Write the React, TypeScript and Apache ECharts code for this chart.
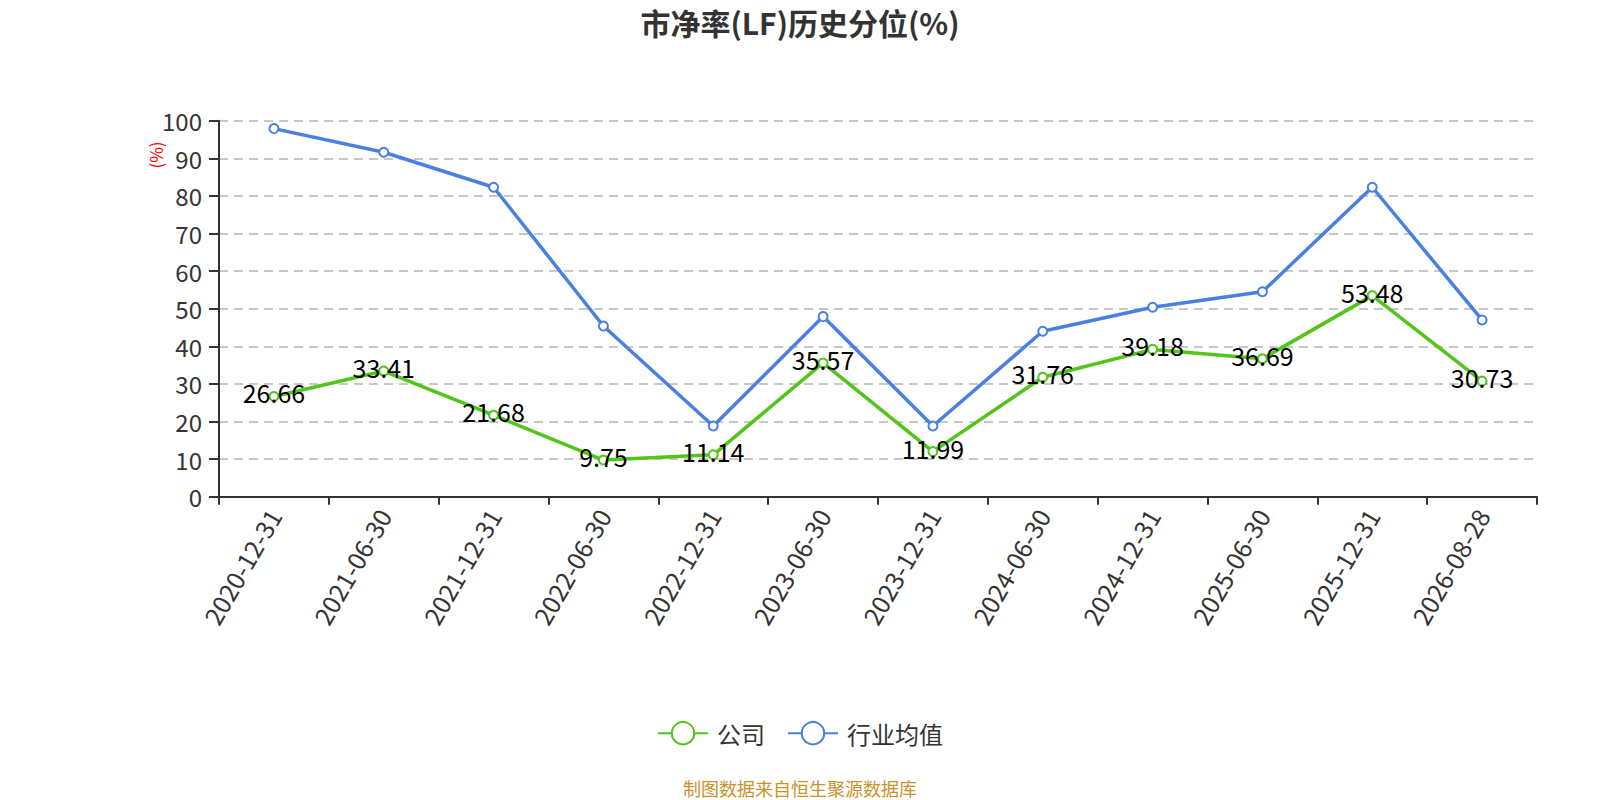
import React, { useEffect, useRef } from "react";
import * as echarts from "echarts";

const categories = [
  "2020-12-31", "2021-06-30", "2021-12-31", "2022-06-30", "2022-12-31", "2023-06-30",
  "2023-12-31", "2024-06-30", "2024-12-31", "2025-06-30", "2025-12-31", "2026-08-28",
];
const companyValues = [26.66, 33.41, 21.68, 9.75, 11.14, 35.57, 11.99, 31.76, 39.18, 36.69, 53.48, 30.73];
const industryValues = [97.9, 91.6, 82.3, 45.4, 18.8, 47.9, 18.8, 44.0, 50.4, 54.5, 82.3, 47.0];
const seriesNames = ["公司", "行业均值"];
const titleText = "市净率(LF)历史分位(%)";
const footerText = "制图数据来自恒生聚源数据库";
const yAxisName = "(%)";

const FONT = "'Noto Sans CJK SC', 'Noto Sans', sans-serif";
const GREEN = "#52c41a";
const BLUE = "#4a80e0";

export default function App() {
  const ref = useRef<HTMLDivElement>(null);
  useEffect(() => {
    if (!ref.current) return;
    const chart = echarts.init(ref.current, null, { renderer: "svg" });
    chart.setOption({
      animation: false,
      textStyle: { fontFamily: FONT },
      title: {
        text: titleText,
        left: "center",
        top: 7,
        padding: 0,
        textStyle: { fontSize: 30, fontWeight: "bold", color: "#333", fontFamily: FONT },
      },
      legend: {
        top: 716,
        left: "center",
        itemWidth: 50,
        itemHeight: 28,
        itemGap: 22,
        textStyle: { fontSize: 24, color: "#333", fontFamily: FONT, padding: [0, 0, 0, 4] },
        data: seriesNames,
      },
      graphic: [
        {
          type: "text",
          x: 800,
          y: 788,
          style: {
            text: footerText, fill: "#c8922a", fontSize: 18, fontFamily: FONT,
            align: "center", verticalAlign: "middle",
          },
        },
        {
          type: "text",
          x: 155,
          y: 155,
          rotation: Math.PI / 2,
          style: {
            text: yAxisName, fill: "#ff0000", fontSize: 17, fontFamily: FONT,
            align: "center", verticalAlign: "middle",
          },
        },
      ],
      grid: { left: 219, right: 63, top: 120.7, bottom: 303.3, containLabel: false },
      xAxis: {
        type: "category",
        data: categories,
        boundaryGap: true,
        axisLine: { lineStyle: { color: "#333", width: 2 } },
        axisTick: { show: true, length: 8, lineStyle: { color: "#333", width: 2 } },
        axisLabel: { rotate: 60, fontSize: 25, color: "#333", margin: 14, interval: 0, fontFamily: FONT },
      },
      yAxis: {
        type: "value",
        min: 0,
        max: 100,
        interval: 10,
        axisLine: { show: true, lineStyle: { color: "#333", width: 2 } },
        axisTick: { show: true, length: 10, lineStyle: { color: "#333", width: 2 } },
        axisLabel: { fontSize: 24, color: "#333", margin: 17, fontFamily: FONT },
        splitLine: { lineStyle: { color: "#c8c8c8", type: [9, 6], width: 2 } },
      },
      series: [
        {
          name: seriesNames[0],
          type: "line",
          data: companyValues,
          symbol: "emptyCircle",
          symbolSize: 9,
          color: GREEN,
          lineStyle: { width: 3.5, color: GREEN },
          itemStyle: { color: GREEN, borderWidth: 2 },
          label: {
            show: true, position: "inside", offset: [0, -4],
            fontSize: 25, color: "#000", fontFamily: FONT,
          },
          z: 3,
        },
        {
          name: seriesNames[1],
          type: "line",
          data: industryValues,
          symbol: "emptyCircle",
          symbolSize: 9,
          color: BLUE,
          lineStyle: { width: 3.5, color: BLUE },
          itemStyle: { color: BLUE, borderWidth: 2 },
          z: 2,
        },
      ],
    });
    return () => chart.dispose();
  }, []);
  return (
    <div
      ref={ref}
      style={{ position: "absolute", left: 0, top: 0, width: 1600, height: 800 }}
    />
  );
}
